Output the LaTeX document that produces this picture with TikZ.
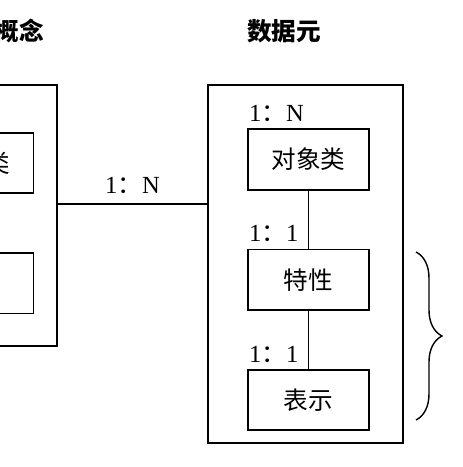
\documentclass[tikz,border=0pt]{standalone}
\usepackage{fontspec}
\setmainfont{Liberation Serif}
\newfontfamily\cjk{Noto Sans CJK SC}
\usetikzlibrary{positioning, decorations.pathreplacing}

\begin{document}
\begin{tikzpicture}[x=0.02cm, y=-0.02cm, node distance=1.16cm, font=\fontsize{14}{16}\selectfont]
    % Styles
    \tikzstyle{frame} = [rectangle, draw, line width=1.1pt, minimum width=3.9cm]
    \tikzstyle{block} = [rectangle, draw, line width=1pt, minimum width=2.42cm, minimum height=1.21cm, font=\cjk\fontsize{14}{16}\selectfont]
    \tikzstyle{title} = [inner sep=0pt, font=\cjk\bfseries\fontsize{14}{16}\selectfont]
    \tikzstyle{ratio} = [inner sep=1pt]
    \tikzstyle{link} = [line width=0.8pt]

    \useasboundingbox (0,0) rectangle (463,467);

    % Frames
    \node[frame, minimum height=7.16cm] (element) at (305.5,264) {};
    \node[frame, minimum height=5.22cm] (concept) at (-40.5,215.5) {};

    % Titles
    \node[title, above right=0.82cm and 0.8cm of element.north west] (etitle) {数据元};
    \node[title, above left=0.82cm and 0.28cm of concept.north east] (ctitle) {概念};

    % Blocks
    \node[block] (objclass) at (308.5,159.5) {对象类};
    \node[block, below=of objclass] (property) {特性};
    \node[block, below=of property] (represent) {表示};
    \node[block] (cobj) at (-27,163) {对象类};
    \node[block, below=of cobj] (cprop) {};

    % Ratios
    \node[ratio, above right=0.09cm and 0cm of objclass.north west] (r1) {1{\cjk ：}N};
    \node[ratio, above right=0.09cm and 0cm of property.north west] (r2) {1{\cjk ：}1};
    \node[ratio, above right=0.09cm and 0cm of represent.north west] (r3) {1{\cjk ：}1};

    % Paths
    \draw[link] (objclass) -- (property);
    \draw[link] (property) -- (represent);
    \coordinate (joint) at (130,204);
    \draw[link] (joint -| concept.east) -- node[ratio, above=0.15cm] {1{\cjk ：}N} (joint -| element.west);

    % Brace
    \coordinate (btop) at (416,252);
    \coordinate (bbot) at (416,420);
    \draw[link, decorate, decoration={brace, amplitude=0.52cm}] (btop) -- (bbot);
\end{tikzpicture}
\end{document}
